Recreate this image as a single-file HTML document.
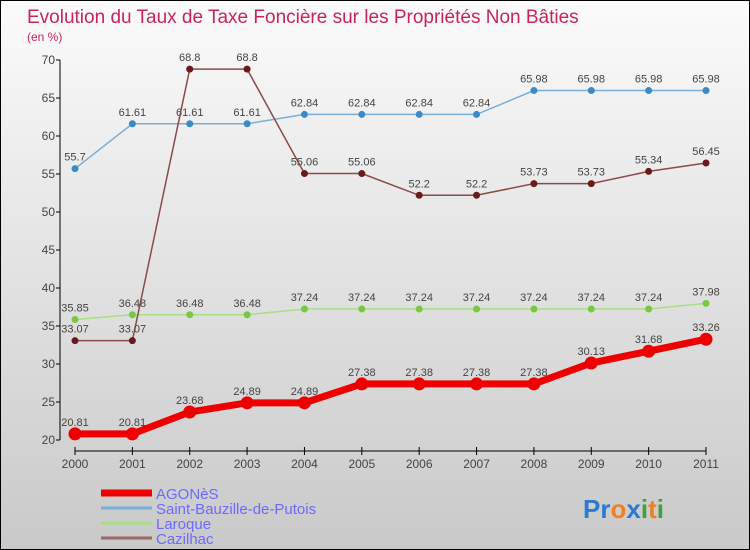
<!DOCTYPE html>
<html><head><meta charset="utf-8"><style>
body{margin:0}
#wrap{width:748px;height:548px;border:1px solid #000;background:linear-gradient(#fbfbfb,#c9c9c9);position:relative;font-family:"Liberation Sans",sans-serif;overflow:hidden}
svg text{font-family:"Liberation Sans",sans-serif}
</style></head><body>
<div id="wrap">
<svg id="chart" width="748" height="548"></svg>
</div>
<script>
const years=[2000,2001,2002,2003,2004,2005,2006,2007,2008,2009,2010,2011];
const yTicks=[20,25,30,35,40,45,50,55,60,65,70];
const agones=[20.81,20.81,23.68,24.89,24.89,27.38,27.38,27.38,27.38,30.13,31.68,33.26];
const saintB=[55.7,61.61,61.61,61.61,62.84,62.84,62.84,62.84,65.98,65.98,65.98,65.98];
const laroque=[35.85,36.48,36.48,36.48,37.24,37.24,37.24,37.24,37.24,37.24,37.24,37.98];
const cazilhac=[33.07,33.07,68.8,68.8,55.06,55.06,52.2,52.2,53.73,53.73,55.34,56.45];
const seriesNames=["AGONèS","Saint-Bauzille-de-Putois","Laroque","Cazilhac"];
const NS="http://www.w3.org/2000/svg";
const svg=document.getElementById('chart');
function x(i){return 74+i*(705-74)/(years.length-1);}
function y(v){return 439-(v-20)*(439-59)/50;}
function mk(t,a,p){const e=document.createElementNS(NS,t);for(const k in a)e.setAttribute(k,a[k]);(p||svg).appendChild(e);return e;}
const title=mk('text',{x:26,y:22,fill:'#c8245a','font-size':19});title.textContent='Evolution du Taux de Taxe Foncière sur les Propriétés Non Bâties';


const sub=mk('text',{x:26,y:40,fill:'#c8245a','font-size':12});sub.textContent='(en %)';


const ya=mk('line',{x1:59,y1:y(70),x2:59,y2:y(20),stroke:'#000'});


yTicks.forEach(v=>{mk('line',{x1:55,x2:59,y1:y(v),y2:y(v),stroke:'#000'});
const t=mk('text',{x:54,y:y(v)+4,'text-anchor':'end','font-size':12,fill:'#444'});t.textContent=v;

});
const xa=mk('line',{x1:x(0),y1:450,x2:x(11),y2:450,stroke:'#000'});


years.forEach((yr,i)=>{mk('line',{x1:x(i),x2:x(i),y1:446,y2:454,stroke:'#000'});
const t=mk('text',{x:x(i),y:467,'text-anchor':'middle','font-size':12,fill:'#444'});t.textContent=yr;

});
function series(data,color,dot,w,r,name,labCol){
 const g=mk('g',{});
 
 
 mk('polyline',{points:data.map((v,i)=>x(i)+','+y(v)).join(' '),fill:'none',stroke:color,'stroke-width':w},g);
 data.forEach((v,i)=>{const c=mk('circle',{cx:x(i),cy:y(v),r:r,fill:dot},g);
  
  
  const t=mk('text',{x:x(i),y:y(v)-8,'text-anchor':'middle','font-size':11,fill:'#444'},g);t.textContent=v;
  
  });
}
series(saintB,'#7aaed6','#3a8ac8',1.5,3.5,'series-saint-bauzille');
series(laroque,'#a8e080','#78c840',1.5,3.5,'series-laroque');
series(cazilhac,'#8a4a4a','#6a1a1a',1.5,3.5,'series-cazilhac');
series(agones,'#ee0000','#ee0000',7,6.5,'series-agones');
const legCols=['#ee0000','#7aaed6','#a8e080','#9a6a6a'];const legW=[7,3,3,3];
seriesNames.forEach((n,i)=>{const ly=492+i*15;
 mk('line',{x1:100,x2:151,y1:ly,y2:ly,stroke:legCols[i],'stroke-width':legW[i]});
 const t=mk('text',{x:155,y:ly+6,'font-size':15,fill:'#6a6aff'});t.textContent=n;
 
 });
const logo=mk('text',{x:582,y:517,'font-size':26,'font-weight':'bold'});


[['Pr','#2a7ad0'],['o','#f08020'],['x','#2a7ad0'],['i','#40a040'],['t','#f08020'],['i','#40a040']].forEach(([s,c])=>{const ts=mk('tspan',{fill:c},logo);ts.textContent=s;});
</script>
</body></html>
